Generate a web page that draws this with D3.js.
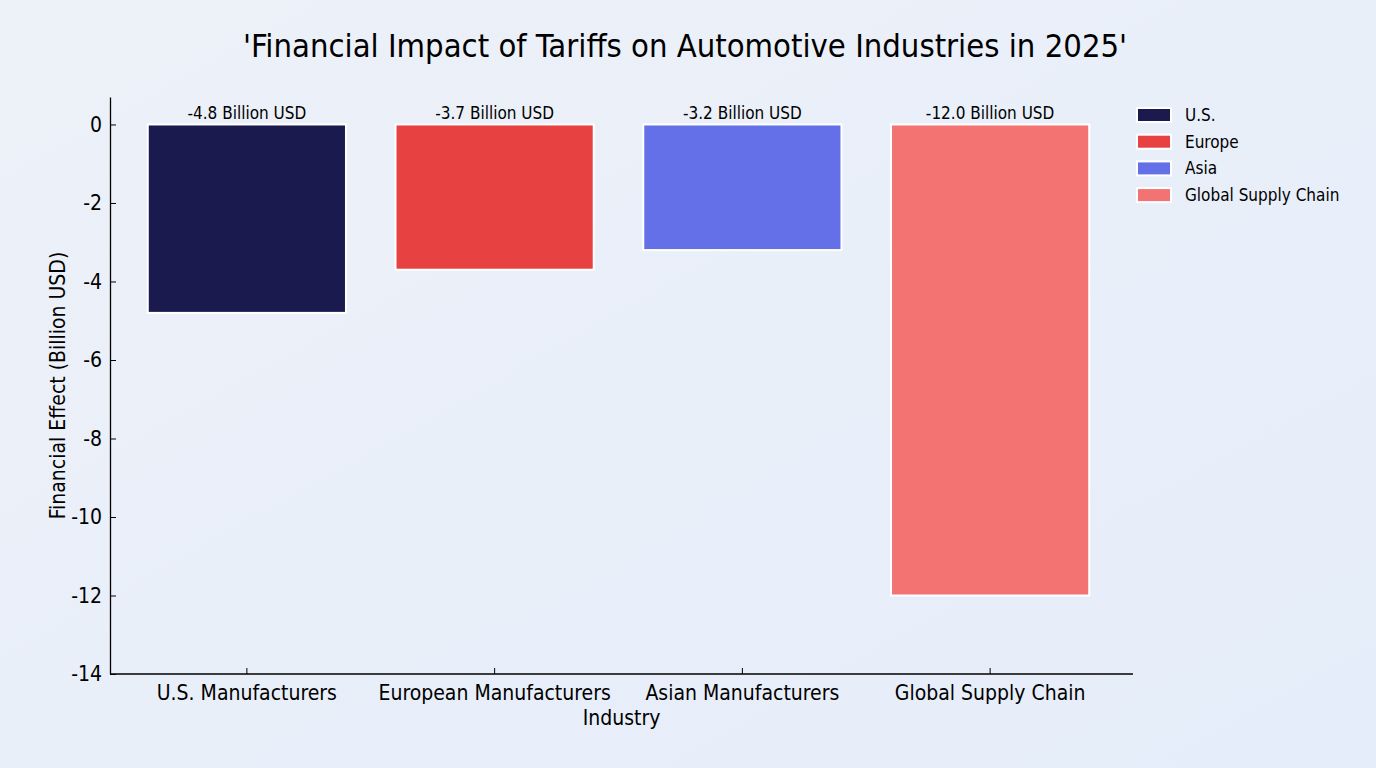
<!DOCTYPE html>
<html>
<head>
<meta charset="utf-8">
<script src="https://cdn.jsdelivr.net/npm/d3@7"></script>
<style>
  html, body { margin: 0; padding: 0; }
  body { width: 1376px; height: 768px; overflow: hidden; }
  svg text { font-family: "Liberation Sans Narrow", "Arial Narrow", "DejaVu Sans Condensed", sans-serif; fill: #000; }
</style>
</head>
<body>
<svg id="chart" width="1376" height="768"></svg>
<script>
// data
var industries = ["U.S. Manufacturers", "European Manufacturers", "Asian Manufacturers", "Global Supply Chain"];
var effects = [-4.8, -3.7, -3.2, -12.0];
var legendNames = ["U.S.", "Europe", "Asia", "Global Supply Chain"];
var barColors = ["#1a1a4f", "#e84142", "#6370e8", "#f37272"];
var yTicks = [0, -2, -4, -6, -8, -10, -12, -14];

var svg = d3.select("#chart");

// soft background
var defs = svg.append("defs");
var grad = defs.append("linearGradient")
    .attr("id", "bg")
    .attr("x1", "0%").attr("y1", "0%")
    .attr("x2", "100%").attr("y2", "100%");
grad.append("stop").attr("offset", "0%").attr("stop-color", "#edf1f8");
grad.append("stop").attr("offset", "100%").attr("stop-color", "#e5edfa");
svg.append("rect")
    .attr("width", 1376).attr("height", 768)
    .attr("fill", "url(#bg)");

var plot = {left: 110, right: 1133, top: 97, bottom: 674};

var x = d3.scaleBand()
    .domain(industries)
    .range([123, 1114])
    .paddingInner(0.2)
    .paddingOuter(0.1);

var y = d3.scaleLinear()
    .domain([-14, 0.7])
    .range([plot.bottom, plot.top]);

// title
svg.append("text")
    .attr("x", 685)
    .attr("y", 57)
    .attr("text-anchor", "middle")
    .style("font-size", "32.5px")
    .text("'Financial Impact of Tariffs on Automotive Industries in 2025'");

// bars
var bars = svg.append("g");
bars.selectAll("rect")
    .data(industries)
    .enter().append("rect")
      .attr("x", function(d) { return x(d); })
      .attr("y", y(0))
      .attr("width", x.bandwidth())
      .attr("height", function(d, i) { return y(effects[i]) - y(0); })
      .attr("fill", function(d, i) { return barColors[i]; })
      .attr("stroke", "#ffffff")
      .attr("stroke-width", 2);

bars.selectAll("text")
    .data(industries)
    .enter().append("text")
      .attr("x", function(d) { return x(d) + x.bandwidth() / 2; })
      .attr("y", y(0) - 5)
      .attr("text-anchor", "middle")
      .style("font-size", "17px")
      .text(function(d, i) { return effects[i].toFixed(1) + " Billion USD"; });

// y axis (plain hyphen for the minus sign, as in the picture)
var yAxis = svg.append("g")
    .attr("transform", "translate(" + plot.left + ",0)")
    .call(d3.axisLeft(y).tickValues(yTicks).tickFormat(function(d) { return String(d); })
      .tickSize(-6).tickSizeOuter(0).tickPadding(8));
yAxis.selectAll("text").style("font-size", "21px");
yAxis.select(".domain").attr("stroke", "#000").attr("stroke-width", 1.3);

// x axis
var xAxis = svg.append("g")
    .attr("transform", "translate(0," + plot.bottom + ")")
    .call(d3.axisBottom(x).tickSize(-6).tickSizeOuter(0).tickPadding(11));
xAxis.select(".domain").remove();
xAxis.selectAll("text").style("font-size", "21px");
xAxis.append("line")
    .attr("x1", plot.left).attr("x2", plot.right)
    .attr("stroke", "#000").attr("stroke-width", 1.3);

// axis titles
svg.append("text")
    .attr("x", (plot.left + plot.right) / 2)
    .attr("y", 725)
    .attr("text-anchor", "middle")
    .style("font-size", "21px")
    .text("Industry");

svg.append("text")
    .attr("transform", "translate(65," + ((plot.top + plot.bottom) / 2) + ") rotate(-90)")
    .attr("text-anchor", "middle")
    .style("font-size", "21px")
    .text("Financial Effect (Billion USD)");

// legend
var legend = svg.selectAll(".legend")
    .data(legendNames)
    .enter().append("g")
      .attr("class", "legend")
      .attr("transform", function(d, i) { return "translate(1137," + (108 + i * 26.7) + ")"; });

legend.append("rect")
    .attr("width", 34)
    .attr("height", 14)
    .attr("fill", function(d, i) { return barColors[i]; })
    .attr("stroke", "#ffffff")
    .attr("stroke-width", 2);

legend.append("text")
    .attr("x", 48)
    .attr("y", 7)
    .attr("dy", "0.35em")
    .style("font-size", "17px")
    .text(function(d) { return d; });
</script>
</body>
</html>
